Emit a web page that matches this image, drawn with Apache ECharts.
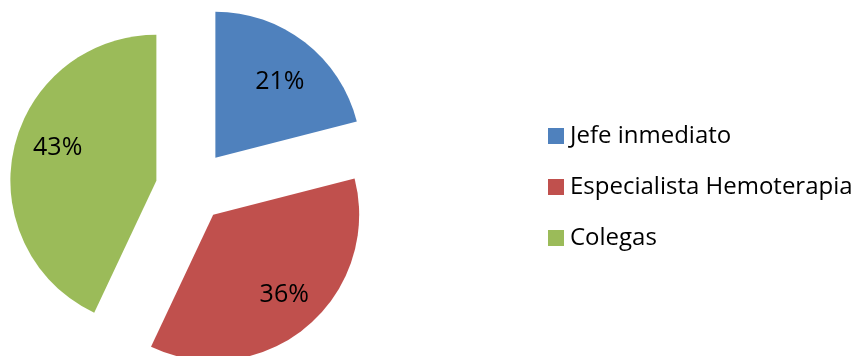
<!DOCTYPE html>
<html>
<head>
<meta charset="utf-8">
<script src="https://cdn.jsdelivr.net/npm/echarts@6/dist/echarts.min.js"></script>
<style>
  html, body { margin: 0; padding: 0; background: #fff; }
  #chart { width: 865px; height: 356px; }
</style>
</head>
<body>
<div id="chart"></div>
<script>
// Share of responses by source (percent)
const categories = ['Jefe inmediato', 'Especialista Hemoterapia', 'Colegas'];
const shares = [21, 36, 43];
const colors = ['#4F81BD', '#C0504D', '#9BBB59'];
// How far each wedge is pulled out from the centre, px
const sliceOffsets = [39, 34, 36];
// Small hand nudges for the percentage labels, px
const labelNudges = [[0, 7], [4, -1], [4, -10]];

const FONT = '"Open Sans", "Liberation Sans", sans-serif';
const R = 146;
const CENTER = [191.5, 188.5];
const LABEL_FRACTION = 0.70; // label distance from the apex, as a share of the radius

const total = shares.reduce((a, b) => a + b, 0);
// mid angle of each wedge, clockwise from 12 o'clock (radians)
const midAngles = [];
{
  let acc = 0;
  shares.forEach(v => {
    midAngles.push(((acc + v / 2) / total) * 2 * Math.PI);
    acc += v;
  });
}

// One pie per wedge so each wedge can carry its own explode distance;
// the other wedges of that pie stay invisible.
const series = categories.map((_, i) => ({
  type: 'pie',
  center: CENTER,
  radius: R,
  startAngle: 90,
  clockwise: true,
  selectedMode: 'multiple',
  selectedOffset: sliceOffsets[i],
  avoidLabelOverlap: false,
  animation: false,
  emphasis: { disabled: true },
  label: {
    show: true,
    position: 'inside',
    formatter: '{c}%',
    fontFamily: FONT,
    fontSize: 25,
    color: '#000'
  },
  labelLine: { show: false },
  labelLayout: p => {
    const a = midAngles[p.dataIndex];
    const d = (LABEL_FRACTION - 0.5) * R;
    const n = labelNudges[p.dataIndex];
    return { dx: Math.sin(a) * d + n[0], dy: -Math.cos(a) * d + n[1] };
  },
  data: categories.map((name, j) => ({
    name,
    value: shares[j],
    selected: j === i,
    itemStyle: { color: j === i ? colors[j] : 'rgba(0,0,0,0)' },
    label: { show: j === i }
  }))
}));

const chart = echarts.init(document.getElementById('chart'), null, { renderer: 'canvas' });
chart.setOption({
  backgroundColor: '#fff',
  legend: {
    orient: 'vertical',
    left: 548,
    top: 124,
    padding: 0,
    icon: 'rect',
    itemWidth: 16,
    itemHeight: 16,
    itemGap: 27,
    selectedMode: false,
    textStyle: { fontFamily: FONT, fontSize: 24, color: '#000', lineHeight: 24, padding: [0, 0, 0, 1] },
    data: categories.map((name, j) => ({
      name,
      itemStyle: { color: colors[j], opacity: 1 }
    }))
  },
  series
});
</script>
</body>
</html>
